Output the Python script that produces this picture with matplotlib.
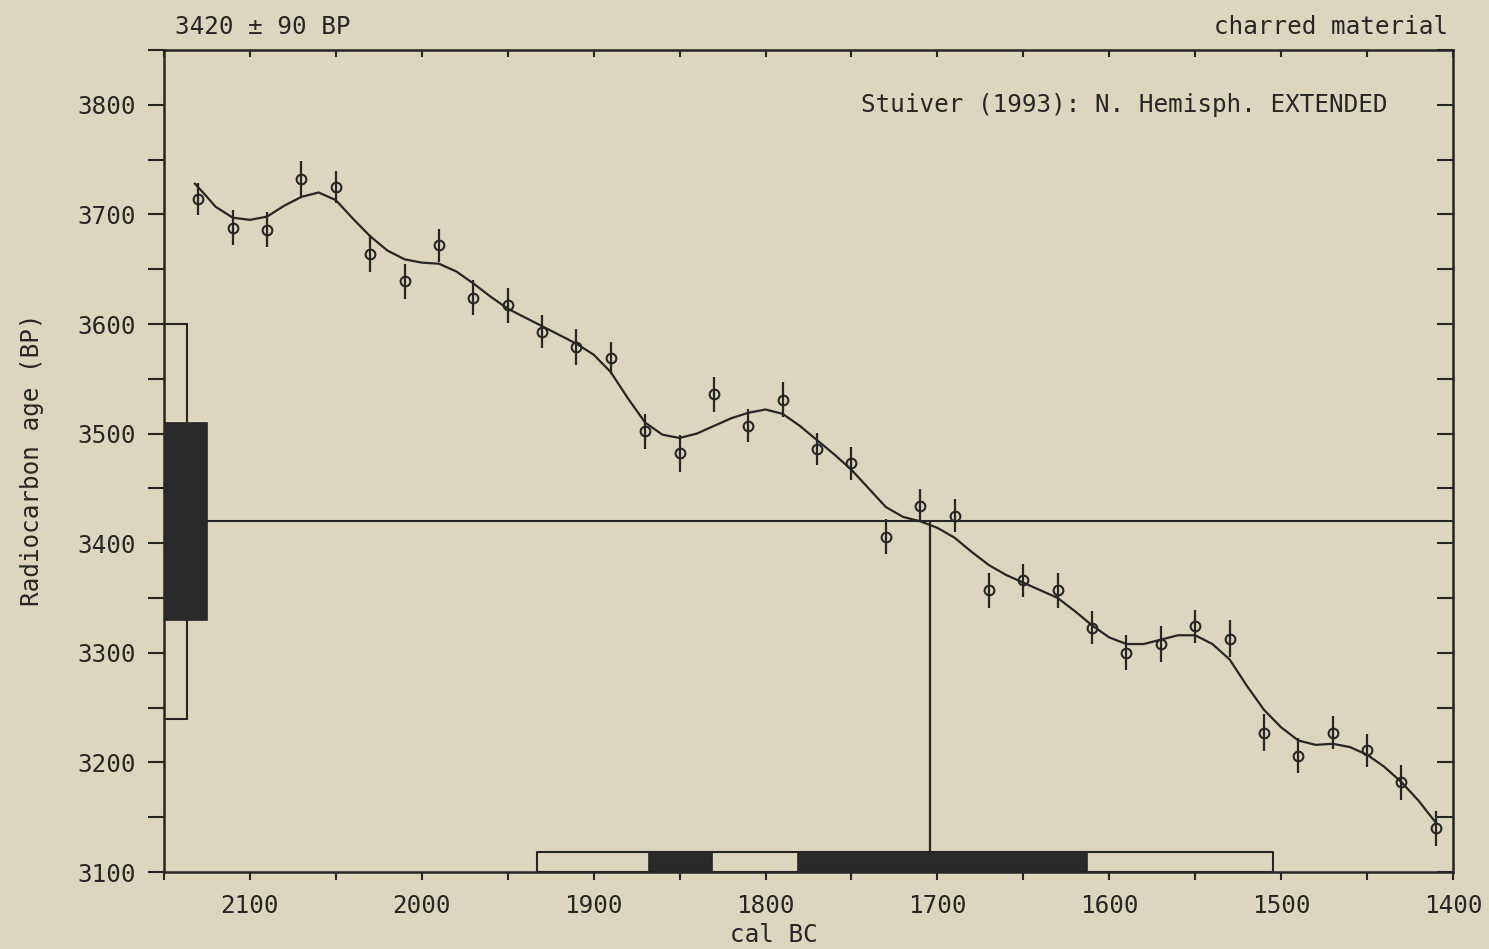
import matplotlib.pyplot as plt
from matplotlib.ticker import MultipleLocator

plt.rcParams['font.family'] = ['DejaVu Sans Mono', 'DejaVu Sans']

point_years = [2130, 2110, 2090, 2070, 2050, 2030, 2010, 1990, 1970, 1950,
               1930, 1910, 1890, 1870, 1850, 1830, 1810, 1790, 1770, 1750,
               1730, 1710, 1690, 1670, 1650, 1630, 1610, 1590, 1570, 1550,
               1530, 1510, 1490, 1470, 1450, 1430, 1410]
point_bp = [3714, 3688, 3686, 3732, 3725, 3664, 3639, 3672, 3624, 3617,
            3593, 3579, 3569, 3502, 3482, 3536, 3507, 3531, 3486, 3473,
            3406, 3434, 3425, 3357, 3366, 3357, 3323, 3300, 3308, 3324,
            3313, 3227, 3206, 3227, 3211, 3182, 3140]
point_err = [15, 16, 16, 17, 15, 17, 16, 15, 16, 16,
             15, 16, 15, 16, 17, 16, 15, 16, 15, 15,
             16, 15, 15, 16, 15, 16, 15, 16, 16, 15,
             17, 17, 16, 15, 15, 16, 16]

curve_years = [2132, 2125, 2120, 2110, 2100, 2090, 2080, 2070, 2060, 2050,
               2040, 2030, 2020, 2010, 2000, 1990, 1980, 1970, 1960, 1950,
               1940, 1930, 1920, 1910, 1900, 1890, 1880, 1870, 1860, 1850,
               1840, 1830, 1820, 1810, 1800, 1790, 1780, 1770, 1760, 1750,
               1740, 1730, 1720, 1710, 1700, 1690, 1680, 1670, 1660, 1650,
               1640, 1630, 1620, 1610, 1600, 1590, 1580, 1570, 1560, 1550,
               1540, 1530, 1520, 1510, 1500, 1490, 1480, 1470, 1460, 1450,
               1440, 1430, 1420, 1410]
curve_bp = [3728, 3716, 3707, 3697, 3695, 3698, 3708, 3716, 3720, 3713,
            3696, 3680, 3667, 3659, 3656, 3655, 3648, 3637, 3625, 3614,
            3606, 3598, 3590, 3582, 3572, 3556, 3532, 3510, 3499, 3496,
            3500, 3507, 3514, 3519, 3522, 3518, 3507, 3494, 3481, 3467,
            3450, 3433, 3424, 3420, 3414, 3405, 3392, 3380, 3371, 3364,
            3357, 3350, 3338, 3325, 3314, 3308, 3308, 3312, 3316, 3316,
            3308, 3294, 3270, 3248, 3232, 3220, 3216, 3217, 3214, 3207,
            3196, 3182, 3165, 3145]

# Fecha medida y rangos
age_bp = 3420
sigma1_bp = (3330, 3510)
sigma2_bp = (3240, 3600)
intercept = 1704.5
range2 = [(1933, 1505)]
range1 = [(1868, 1831), (1781, 1613)]

bg = '#dcd6be'
ink = '#262626'

fig = plt.figure(figsize=(14.89, 9.49), dpi=100, facecolor=bg)
ax = fig.add_axes([164 / 1489, 1 - 872 / 949, (1453 - 164) / 1489, (872 - 50) / 949])
ax.set_facecolor(bg)
ax.set_xlim(2150, 1400)
ax.set_ylim(3100, 3850)

# curva y puntos
ax.plot(curve_years, curve_bp, color=ink, lw=1.6, zorder=3, solid_joinstyle='round')
ax.errorbar(point_years, point_bp, yerr=point_err, fmt='o', ms=7, mfc='none',
            mec=ink, mew=1.5, ecolor=ink, elinewidth=1.6, capsize=0, zorder=4)

# cajas de la edad radiocarbono
ax.bar(2150, sigma2_bp[1] - sigma2_bp[0], bottom=sigma2_bp[0], width=-13.4,
       align='edge', color=bg, edgecolor=ink, lw=1.5, zorder=2)
ax.bar(2150, sigma1_bp[1] - sigma1_bp[0], bottom=sigma1_bp[0], width=-25,
       align='edge', color='#2a2a2a', edgecolor=ink, lw=1.2, zorder=2)

# rangos calibrados
for a, b in range2:
    ax.broken_barh([(b, a - b)], (3100, 18), facecolor=bg, edgecolor=ink, lw=1.5, zorder=2)
for a, b in range1:
    ax.broken_barh([(b, a - b)], (3100, 18), facecolor='#2a2a2a', edgecolor=ink, lw=1.2, zorder=2)

ax.hlines(age_bp, 2125, 1400, color=ink, lw=1.5, zorder=2)
ax.vlines(intercept, 3118, age_bp, color=ink, lw=1.6, zorder=2)

for s in ax.spines.values():
    s.set_linewidth(1.8)
    s.set_color(ink)

ax.xaxis.set_major_locator(MultipleLocator(100))
ax.xaxis.set_minor_locator(MultipleLocator(50))
ax.yaxis.set_major_locator(MultipleLocator(100))
ax.yaxis.set_minor_locator(MultipleLocator(50))
ax.tick_params(axis='x', which='both', direction='out', length=6, width=1.5,
               color=ink, labelsize=17.5, labelcolor=ink, pad=10)
ax.tick_params(axis='y', which='both', direction='out', length=11.5, width=1.5,
               color=ink, labelsize=17.5, labelcolor=ink, pad=9)
ax.set_yticks([3100, 3200, 3300, 3400, 3500, 3600, 3700, 3800])

top = ax.secondary_xaxis('top')
top.xaxis.set_major_locator(MultipleLocator(50))
top.tick_params(direction='in', length=5, width=1.5, color=ink, labeltop=False)
right = ax.secondary_yaxis('right')
right.yaxis.set_major_locator(MultipleLocator(100))
right.yaxis.set_minor_locator(MultipleLocator(50))
right.tick_params(which='both', direction='in', length=11.5, width=1.5, color=ink, labelright=False)

ax.text(1438, 3800, 'Stuiver (1993): N. Hemisph. EXTENDED', ha='right', va='center',
        fontsize=17.5, color=ink)
fig.text(175 / 1489, 1 - 27 / 949, '3420 ± 90 BP', ha='left', va='center', fontsize=17.5, color=ink)
fig.text(1448 / 1489, 1 - 27 / 949, 'charred material', ha='right', va='center', fontsize=17.5, color=ink)
fig.text(774 / 1489, 1 - 935 / 949, 'cal BC', ha='center', va='center', fontsize=17.5, color=ink)
fig.text(32 / 1489, 1 - 460 / 949, 'Radiocarbon age (BP)', ha='center', va='center',
         rotation=90, fontsize=17.5, color=ink)

fig.savefig('out.png', dpi=100, facecolor=bg)
